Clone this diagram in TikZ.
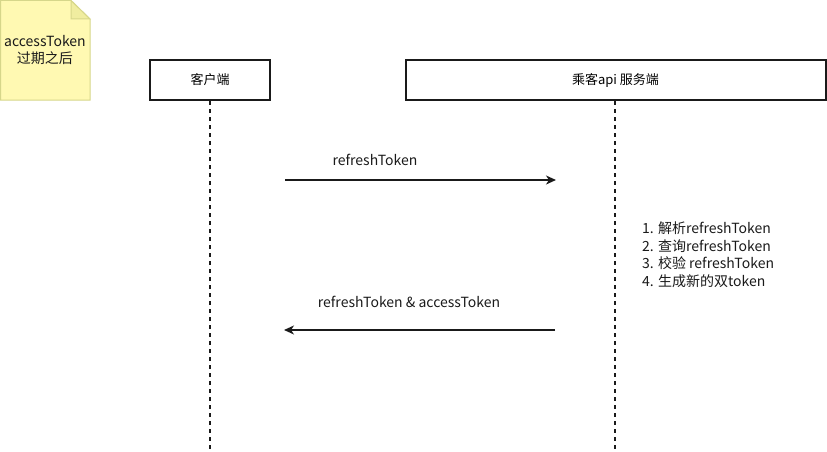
\documentclass[tikz,border=0pt]{standalone}
\usepackage{fontspec}
\setmainfont{Noto Sans CJK SC}
\usetikzlibrary{arrows.meta}
\definecolor{notefill}{HTML}{FFF9B2}
\definecolor{notedraw}{HTML}{D6D68A}
\definecolor{foldfill}{HTML}{F0EDA0}
\definecolor{ink}{HTML}{1A1A1A}
\begin{document}
\begin{tikzpicture}[x=1pt,y=-1pt,
  actorbox/.style={draw=ink,line width=2pt,fill=white,inner sep=0pt,font=\fontsize{13}{15}\selectfont},
  lifeline/.style={draw=ink,line width=2pt,dash pattern=on 4pt off 4pt},
  msg/.style={draw=ink,line width=1.5pt,-{Stealth[length=10pt,width=9pt,inset=3pt]}},
  lbl/.style={font=\fontsize{14}{16}\selectfont,text=ink,inner sep=0pt}]
\useasboundingbox (0,0) rectangle (827,452);
% note
\path[fill=notefill,draw=notedraw,line width=1pt] (0.5,0.5) -- (71,0.5) -- (90,19) -- (90,100) -- (0.5,100) -- cycle;
\path[fill=foldfill,draw=notedraw,line width=1pt] (71,0.5) -- (71,19) -- (90,19) -- cycle;
\node[align=center,font=\fontsize{14}{17}\selectfont,text=ink,inner sep=0pt] (note) at (45,50) {accessToken\\过期之后};
% actors
\node[actorbox,minimum width=120pt,minimum height=40pt] (client) at (210,80) {客户端};
\node[actorbox,minimum width=420pt,minimum height=40pt] (server) at (615.5,80) {乘客api 服务端};
\coordinate (cEnd) at (210,452);
\coordinate (sEnd) at (615,452);
\draw[lifeline] (client.south) -- (cEnd);
\draw[lifeline] ([xshift=-0.5pt]server.south) -- (sEnd);
% messages
\coordinate (m1a) at (285,180);
\coordinate (m1b) at (556,180);
\draw[msg] (m1a) -- (m1b);
\node[lbl] (l1) at (375,160) {refreshToken};
\coordinate (m2a) at (555,330);
\coordinate (m2b) at (284,330);
\draw[msg] (m2a) -- (m2b);
\node[lbl] (l2) at (409,302) {refreshToken \& accessToken};
% steps
\node[lbl,anchor=north west,align=left,font=\fontsize{14}{17.4}\selectfont] (steps) at (642,222) {1. 解析refreshToken\\2. 查询refreshToken\\3. 校验 refreshToken\\4. 生成新的双token};
\end{tikzpicture}
\end{document}
